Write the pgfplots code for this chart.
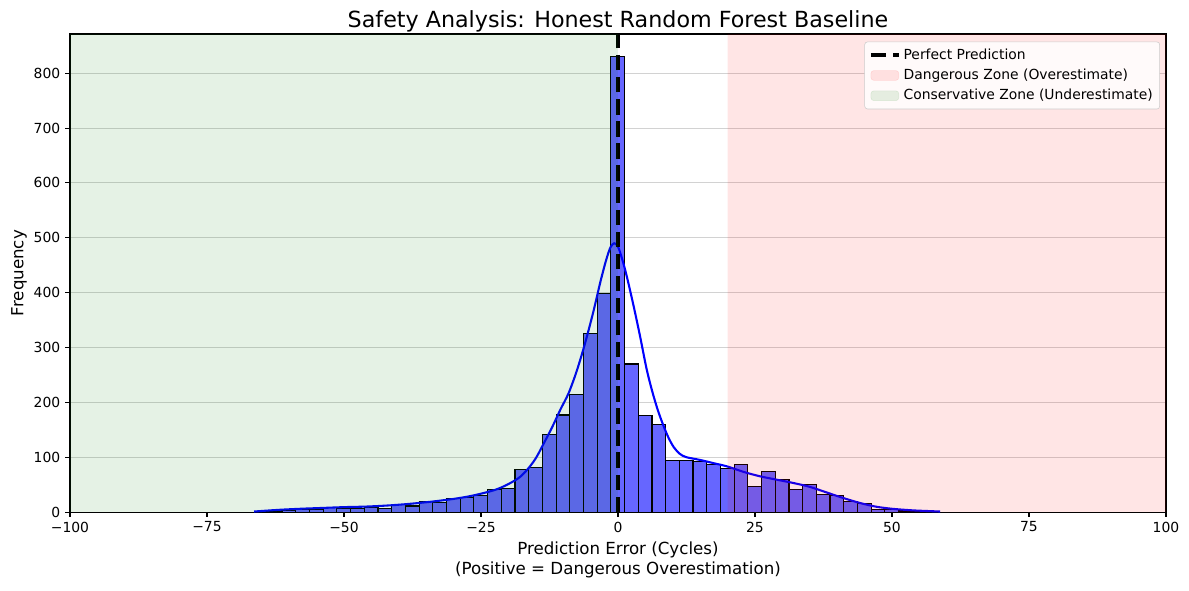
\documentclass[border=0pt]{standalone}
\usepackage{fontspec}
\setmainfont{DejaVu Sans}
\usepackage{pgfplots}
\pgfplotsset{compat=1.18}
\definecolor{barfill}{RGB}{102,102,255}
\definecolor{zonered}{RGB}{255,0,0}
\definecolor{zonegreen}{RGB}{0,128,0}
\definecolor{gridgray}{RGB}{210,210,210}
\definecolor{legedge}{RGB}{204,204,204}
\definecolor{legfill}{RGB}{255,250,250}
\pgfplotsset{
  linelegend/.style={legend image code/.code={\draw[##1] (0pt,0pt) -- (20pt,0pt);}},
  patchlegend/.style={legend image code/.code={\draw[##1] (0pt,-3.5pt) rectangle (20pt,3.5pt);}},
}
\begin{document}
\begin{tikzpicture}
\useasboundingbox (-50.4pt,-56.2pt) rectangle (805.7pt,368.7pt);
\begin{axis}[
  scale only axis,
  width=789.1pt, height=344.2pt,
  xmin=-100, xmax=100, ymin=0, ymax=871.5,
  xtick={-100,-75,-50,-25,0,25,50,75,100},
  xticklabels={−100,−75,−50,−25,0,25,50,75,100},
  ytick={0,100,...,800},
  /pgf/number format/assume math mode=true,
  tick pos=left,
  tick align=outside,
  major tick length=3.5pt,
  every tick/.style={black, line width=0.8pt},
  axis line style={line width=0.8pt},
  tick label style={font=\fontsize{10}{12}\selectfont},
  ymajorgrids,
  grid style={gridgray, line width=0.8pt},
  title={Safety Analysis: Honest Random Forest Baseline},
  title style={font=\fontsize{16}{19}\selectfont, yshift=-8pt},
  xlabel={Prediction Error (Cycles)\\(Positive = Dangerous Overestimation)},
  ylabel={Frequency},
  ylabel shift=-2pt,
  label style={font=\fontsize{12}{14.5}\selectfont},
  xlabel style={align=center},
  legend cell align=left,
  legend style={at={(1,1)}, anchor=north east, xshift=-4.3pt, yshift=-5.5pt,
    draw=legedge, rounded corners=2pt, fill=legfill,
    font=\fontsize{10}{12}\selectfont, row sep=1.5pt, inner sep=3pt},
]
\addlegendimage{linelegend, black, line width=3pt, dash pattern=on 11.1pt off 4.8pt}
\addlegendentry{Perfect Prediction}
\addlegendimage{patchlegend, fill=zonered, fill opacity=0.1, draw=zonered, draw opacity=0.1}
\addlegendentry{Dangerous Zone (Overestimate)}
\addlegendimage{patchlegend, fill=zonegreen, fill opacity=0.1, draw=zonegreen, draw opacity=0.1}
\addlegendentry{Conservative Zone (Underestimate)}

% histogram, 50 bins of width 2.5
\addplot[forget plot, ybar, bar width=2.5, bar shift=0pt, fill=barfill, draw=black, line width=0.8pt]
coordinates {
(-65.05,1) (-62.55,2) (-60.05,3) (-57.55,4) (-55.05,4) (-52.55,8) (-50.05,7)
(-47.55,7) (-45.05,8) (-42.55,7) (-40.05,14) (-37.55,11) (-35.05,20) (-32.55,17)
(-30.05,25) (-27.55,27) (-25.05,31) (-22.55,41) (-20.05,43) (-17.55,78) (-15.05,82)
(-12.55,142) (-10.05,177) (-7.55,215) (-5.05,325) (-2.55,398) (-0.05,830)
(2.45,270) (4.95,176) (7.45,160) (9.95,94) (12.45,94) (14.95,92) (17.45,87)
(19.95,80) (22.45,87) (24.95,47) (27.45,74) (29.95,60) (32.45,41) (34.95,51)
(37.45,32) (39.95,30) (42.45,19) (44.95,16) (47.45,5) (49.95,4) (52.45,2)
(54.95,1) (57.45,1)
};

% kde
\addplot[forget plot, smooth, tension=0.5, blue, line width=1.5pt] coordinates {
(-66.4,1) (-62,4) (-58,6) (-54,7.5) (-50,9) (-46,10) (-42,12) (-38,15) (-34,19)
(-30,24) (-27,29) (-24,36) (-22,42) (-20,51) (-18,63) (-16.5,78) (-15,98)
(-13.5,126) (-12,155) (-10.5,187) (-9,217) (-7.5,258) (-6,308) (-4.5,365)
(-3.2,420) (-2.2,458) (-1.4,482) (-0.7,490) (0,484) (0.8,460) (1.6,430)
(2.8,378) (4,322) (5.2,262) (6.2,222) (7.2,188) (8.2,160) (9.2,136) (10.2,118)
(11.3,106) (12.5,100) (15,95) (17.5,89) (20,83) (23,73) (26,65) (29,59)
(32,53) (35,46) (38,36) (41,26) (44,17) (47,10) (50,6) (54,3) (58.8,1)
};

% perfect prediction
\addplot[forget plot, black, line width=3pt, dash pattern=on 11.1pt off 4.8pt]
coordinates {(0,0) (0,871.5)};

% zones
\addplot[forget plot, fill=zonered, fill opacity=0.1, draw=none]
coordinates {(20,0) (20,871.5) (100,871.5) (100,0)} \closedcycle;
\addplot[forget plot, fill=zonegreen, fill opacity=0.1, draw=none]
coordinates {(-100,0) (-100,871.5) (0,871.5) (0,0)} \closedcycle;
\end{axis}
\end{tikzpicture}
\end{document}
